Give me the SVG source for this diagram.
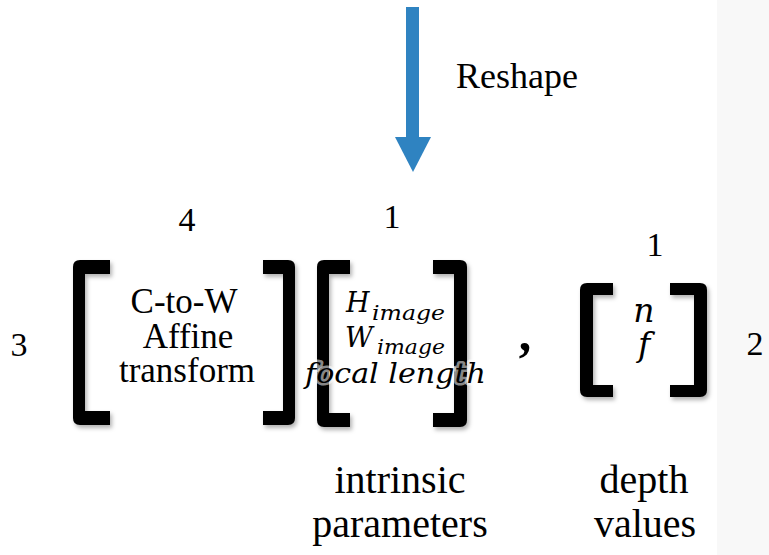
<svg xmlns="http://www.w3.org/2000/svg" width="769" height="555" viewBox="0 0 769 555">
  <style>
    .bracket { fill: #000; filter: url(#shade); }
    .roman { font-family: 'Liberation Serif', 'DejaVu Serif', serif; }
    .math { font-family: 'DejaVu Serif', 'Liberation Serif', serif; font-style: italic; }
    .halo { paint-order: stroke; stroke: #ffffff; stroke-opacity: 0.55; stroke-width: 5; stroke-linejoin: round; }
  </style>
  <defs>
    <filter id="shade" x="-30%" y="-10%" width="160%" height="125%">
      <feDropShadow dx="2" dy="3" stdDeviation="2" flood-color="#000" flood-opacity="0.3"/>
    </filter>
  </defs>

  <!-- page background with the pale strip on the right -->
  <rect x="0" y="0" width="769" height="555" fill="#ffffff"/>
  <rect x="717" y="0" width="52" height="555" fill="#f8f8f8"/>

  <!-- connectors -->
  <g id="connectors">
    <rect x="406" y="7" width="13" height="131" fill="#2f83c1"/>
    <polygon points="395,137 431,137 413,172" fill="#2f83c1"/>
    <text class="roman" x="456" y="88" font-size="36">Reshape</text>
  </g>

  <!-- extrinsic matrix: 3 x 4 -->
  <g id="extrinsic">
    <path class="bracket" d="M110,260 H80 Q73,260 73,267 V418 Q73,425 80,425 H110 V411 H85 V274 H110 Z"/>
    <path class="bracket" d="M263,260 H288 Q295,260 295,267 V418 Q295,425 288,425 H263 V411 H283 V274 H263 Z"/>
    <g class="roman" text-anchor="middle">
      <text x="184" y="313" font-size="35">C-to-W</text>
      <text x="188" y="348" font-size="35">Affine</text>
      <text x="187" y="382" font-size="35">transform</text>
      <text x="187" y="231" font-size="34">4</text>
      <text x="19" y="356" font-size="34">3</text>
    </g>
  </g>

  <!-- intrinsic parameters: 3 x 1 -->
  <g id="intrinsic">
    <path class="bracket" d="M350,260 H324 Q317,260 317,267 V420 Q317,427 324,427 H350 V413 H329 V274 H350 Z"/>
    <path class="bracket" d="M433,260 H460 Q467,260 467,267 V420 Q467,427 460,427 H433 V413 H454 V274 H433 Z"/>
    <g class="math">
      <text x="346" y="312" font-size="27">H</text>
      <text x="372" y="320" font-size="21" textLength="73" lengthAdjust="spacingAndGlyphs">image</text>
      <text x="345" y="347" font-size="27">W</text>
      <text x="377" y="354" font-size="21" textLength="68" lengthAdjust="spacingAndGlyphs">image</text>
      <text class="halo" x="305" y="383" font-size="27" textLength="181" lengthAdjust="spacingAndGlyphs">focal length</text>
    </g>
    <g class="roman" text-anchor="middle">
      <text x="392" y="228" font-size="34">1</text>
      <text x="400" y="493" font-size="40">intrinsic</text>
      <text x="400" y="537" font-size="40">parameters</text>
    </g>
  </g>

  <!-- separator -->
  <text class="roman" x="525" y="350" font-size="50" font-weight="bold" text-anchor="middle">,</text>

  <!-- depth values: 2 x 1 -->
  <g id="depth">
    <path class="bracket" d="M613,283 H587 Q580,283 580,290 V390 Q580,397 587,397 H613 V385 H593 V295 H613 Z"/>
    <path class="bracket" d="M670,283 H700 Q707,283 707,290 V390 Q707,397 700,397 H670 V385 H694 V295 H670 Z"/>
    <g class="math" text-anchor="middle">
      <text x="644" y="322" font-size="33">n</text>
      <text x="644" y="356" font-size="33">f</text>
    </g>
    <g class="roman" text-anchor="middle">
      <text x="655" y="256" font-size="34">1</text>
      <text x="755" y="355" font-size="34">2</text>
      <text x="644" y="493" font-size="40">depth</text>
      <text x="645" y="537" font-size="40">values</text>
    </g>
  </g>
</svg>
